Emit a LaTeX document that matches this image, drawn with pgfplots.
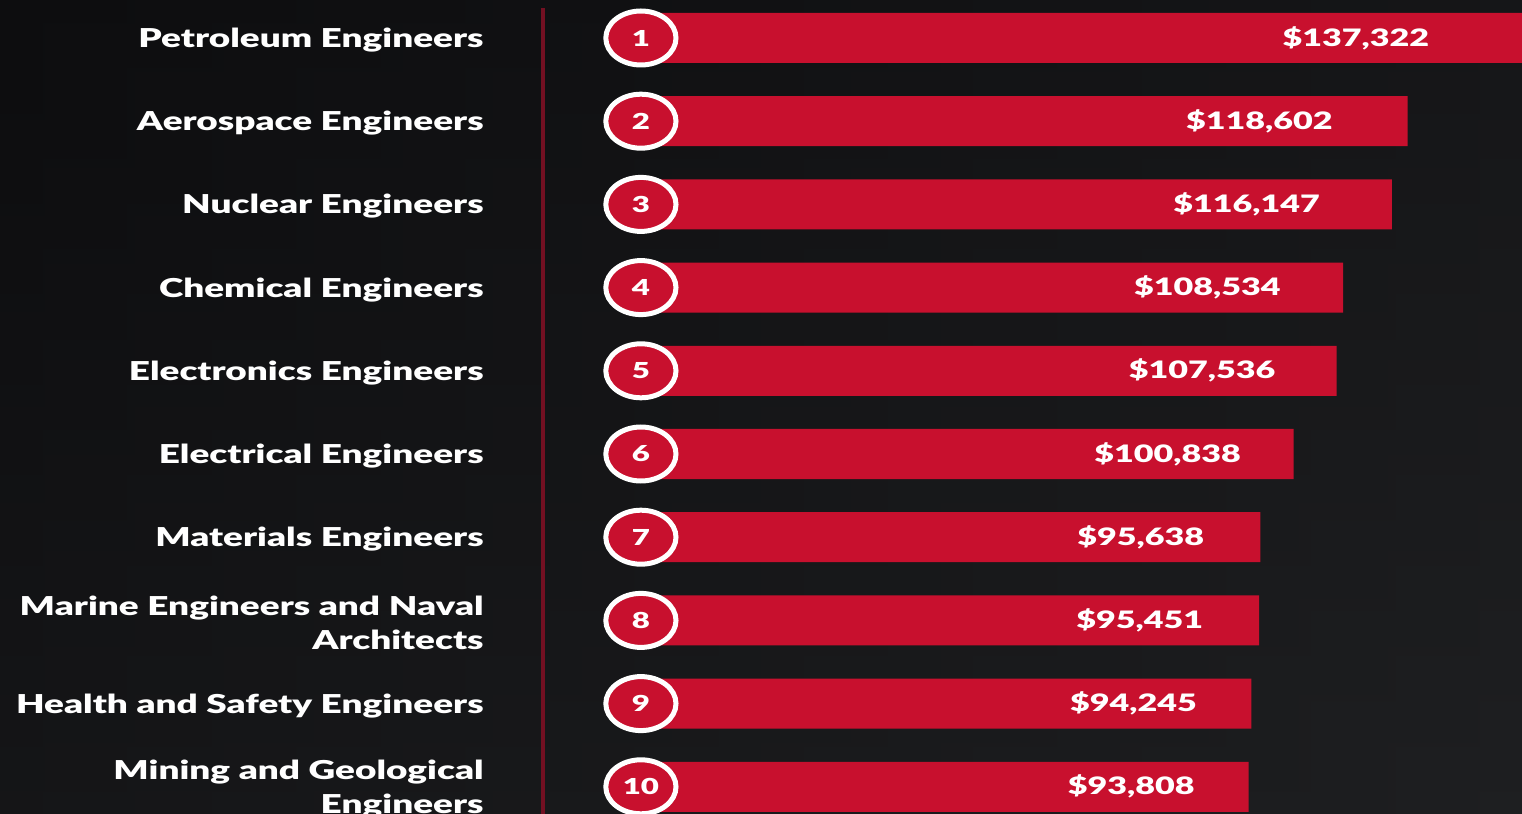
\documentclass[border=0pt]{standalone}
\usepackage{pgfplots}
\pgfplotsset{compat=1.18}
\usepackage{pgfplotstable}
\usepackage{fontspec}
\IfFontExistsTF{Lato Black}{%
  \newfontfamily\labfamily{Lato Black}[FakeStretch=1.42]
  \newcommand\labfont{\labfamily}%
}{%
  \newfontfamily\labfamily{Lato}[FakeStretch=1.42]
  \newcommand\labfont{\labfamily\bfseries}%
}
\definecolor{barred}{RGB}{200,16,46}
\definecolor{linered}{RGB}{115,16,34}
\definecolor{bgtop}{RGB}{13,13,15}
\definecolor{bgbot}{RGB}{30,31,33}

\pgfplotstableread{
i cx v
1 -950 137322
2 -950 118602
3 -950 116147
4 -950 108534
5 -950 107536
6 -950 100838
7 -950 95638
8 -950 95451
9 -950 94245
10 -950 93808
}\salaries

\begin{document}
\begin{tikzpicture}
\useasboundingbox (0,0) rectangle (761pt,407pt);
\shade[top color=bgtop, bottom color=bgbot] (0,0) rectangle (761pt,407pt);
\shade[left color=bgtop, right color=bgbot, opacity=0.5] (0,0) rectangle (761pt,407pt);
\begin{axis}[
  at={(0,0)}, anchor=south west,
  scale only axis, width=761pt, height=407pt,
  xmin=-100887, xmax=136440,
  ymin=0.5433, ymax=10.327, y dir=reverse,
  axis line style={draw=none},
  major tick length=0pt,
  xtick=\empty,
  ytick={1,...,10},
  yticklabels={Petroleum Engineers, Aerospace Engineers, Nuclear Engineers, Chemical Engineers, Electronics Engineers, Electrical Engineers, Materials Engineers, {Marine Engineers and Naval\\Architects}, Health and Safety Engineers, {Mining and Geological\\Engineers}},
  yticklabel style={anchor=east, align=right, inner sep=0pt, xshift=242pt, yshift=-1pt, text=white, font=\labfont\fontsize{13pt}{17pt}\selectfont},
  /pgf/number format/assume math mode=true,
  clip=true,
]
\draw[linered, line width=2pt] (axis cs:-16217,0.64) -- (axis cs:-16217,10.5);
\addplot[xbar, bar width=25pt, fill=barred, draw=none] table[x=v, y=i] {\salaries};
\addplot[only marks, mark=*, mark size=13.5pt,
  mark options={fill=barred, draw=white, line width=2.5pt, xscale=1.3},
  point meta=\thisrow{i},
  nodes near coords={\pgfmathprintnumber[assume math mode=true]{\pgfplotspointmeta}},
  nodes near coords align=center,
  every node near coord/.append style={text=white, font=\labfont\fontsize{11pt}{12pt}\selectfont, anchor=center}
] table[x=cx, y=i] {\salaries};
\addplot[draw=none, mark=none,
  point meta=\thisrow{v},
  nodes near coords={\$\pgfmathprintnumber[fixed, precision=0, 1000 sep={,}, assume math mode=true]{\pgfplotspointmeta}},
  nodes near coords align=center,
  every node near coord/.append style={text=white, font=\labfont\fontsize{12pt}{14pt}\selectfont, anchor=center}
] table[x expr=0.805*\thisrow{v}, y=i] {\salaries};
\end{axis}
\end{tikzpicture}
\end{document}
